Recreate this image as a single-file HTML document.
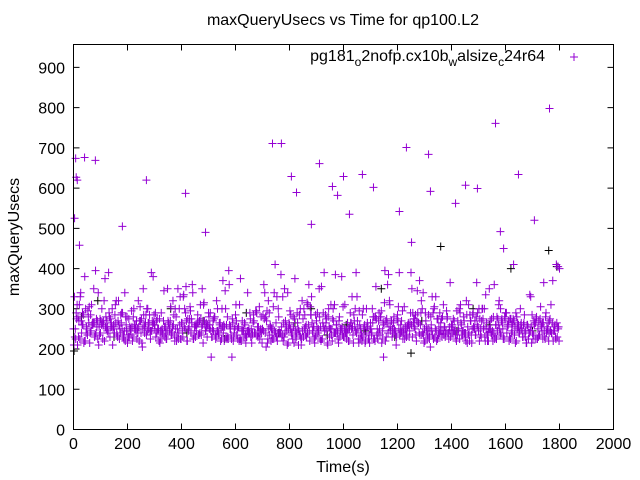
<!DOCTYPE html>
<html><head><meta charset="utf-8"><style>
body{margin:0;background:#fff;}
svg{display:block;font-family:"Liberation Sans",sans-serif;}
</style></head><body>
<svg id="chart" width="640" height="480" xmlns="http://www.w3.org/2000/svg">
<rect width="640" height="480" fill="#fff"/>
<text x="343" y="25" font-size="16" text-anchor="middle">maxQueryUsecs vs Time for qp100.L2</text>
<text x="343" y="472" font-size="16" text-anchor="middle">Time(s)</text>
<text transform="translate(19,237) rotate(-90)" font-size="16" text-anchor="middle">maxQueryUsecs</text>
<g id="axes"></g>
<g id="marks"></g>
<g>
<text x="545" y="61" font-size="16" text-anchor="end">pg181<tspan font-size="12" dy="5">o</tspan><tspan dy="-5">2nofp.cx10b</tspan><tspan font-size="12" dy="5">w</tspan><tspan dy="-5">alsize</tspan><tspan font-size="12" dy="5">c</tspan><tspan dy="-5">24r64</tspan></text>
<path d="M570,57h8M574,53v8" stroke="#9400d3" stroke-width="1"/>
</g>
<rect x="73.5" y="44.5" width="540" height="385" fill="none" stroke="#000"/>
</svg>
<script>
const xTicks=[0,200,400,600,800,1000,1200,1400,1600,1800,2000];
const yTicks=[0,100,200,300,400,500,600,700,800,900];
const endTime=1800;
const baseValues=[
250,230,290,210,270,330,240,260,220,300,250,280,215,245,265,350,235,275,225,255,
240,300,260,220,280,245,390,230,265,210,255,310,240,270,225,285,250,235,340,260,
215,275,245,295,230,260,250,225,320,270,240,205,285,255,235,300,265,225,245,380,
260,230,275,250,215,290,240,345,255,225,270,245,305,235,260,220,280,250,240,330,
265,230,255,290,220,250,275,240,360,225,260,245,285,235,310,255,215,270,245,230,
290,260,180,250,275,235,320,245,265,220,300,240,255,230,280,395,250,225,265,240,
285,235,255,310,220,270,245,260,230,340,250,275,215,265,240,295,235,255,225,280,
250,360,240,270,225,290,255,235,305,245,265,220,280,240,255,330,230,270,245,215,
260,285,240,255,375,230,265,245,300,225,275,250,235,315,260,220,285,245,255,230,
270,240,350,255,225,290,245,265,215,300,250,235,275,240,385,260,225,280,245,255,
230,310,240,265,220,290,250,235,270,245,330,225,260,240,285,250,215,300,255,235,
265,240,280,225,355,250,270,235,295,245,260,220,275,240,320,255,230,265,245,210,
285,250,240,270,225,305,255,235,265,245,390,230,275,250,220,290,240,260,235,340,
250,270,225,285,245,260,235,300,250,220,275,240,265,230,310,255,245,280,225,365,
260,240,270,235,295,250,225,265,245,280,230,320,255,240,270,215,290,250,235,260,
245,275,230,300,255,220,265,240,350,250,235,280,225,260,245,310,235,270,250,225,
290,240,260,230,275,245,410,255,220,265,240,300,250,230,285,245,260,225,335,255,
240,270,225,280,250,235,305,245,265,230,290,250,220,275,240,370,255,230,265,250];
const outlierTimes=[4,8,10,14,22,41,81,181,270,415,489,737,770,807,826,881,911,959,978,1000,1022,1070,1111,1207,1233,1252,1315,1322,1415,1452,1496,1563,1581,1593,1648,1707,1763,1800,1795];
const outlierValues=[525,674,627,620,458,676,669,505,620,587,490,711,711,629,589,510,661,604,582,629,535,634,602,542,701,465,684,592,562,607,599,761,492,450,634,520,798,400,405];
const blackTimes=[2,30,90,150,210,300,360,420,480,560,640,700,760,820,880,940,1010,1080,1140,1190,1250,1290,1360,1420,1480,1540,1620,1700,1760,1790];
const blackValues=[195,280,320,230,250,260,300,240,270,225,290,250,240,265,300,235,260,245,350,230,190,270,455,245,300,260,400,245,445,405];
const X=v=>73.5+v*540/2000, Y=v=>429.5-v*385/957;
const axes=document.getElementById('axes'), marks=document.getElementById('marks');
const NS='http://www.w3.org/2000/svg';
function mk(t,a,p){const e=document.createElementNS(NS,t);for(const k in a)e.setAttribute(k,a[k]);p.appendChild(e);return e;}
xTicks.forEach(t=>{const x=X(t);
 const l=mk('path',{d:`M${x},429.5v-6M${x},44.5v6`,stroke:'#000'},axes);
 
 
 const tx=mk('text',{x:x,y:449,'font-size':16,'text-anchor':'middle'},axes);tx.textContent=t;
 
 });
yTicks.forEach(t=>{const y=Y(t);
 const l=mk('path',{d:`M73.5,${y}h6M613.5,${y}h-6`,stroke:'#000'},axes);
 
 
 const tx=mk('text',{x:65,y:y+6,'font-size':16,'text-anchor':'end'},axes);tx.textContent=t;
 
 });
function plus(t,v,c){const x=X(t),y=Y(v);
 const p=mk('path',{d:`M${x-4},${y}h8M${x},${y-4}v8`,stroke:c,'stroke-width':1},marks);
 
 }
blackTimes.forEach((t,i)=>plus(t,blackValues[i],'#000'));
const n=baseValues.length, step=endTime/n;
baseValues.forEach((v,i)=>{
 plus(i*step,v,'#9400d3');
 plus(i*step+step/3,baseValues[(i*7+3)%n],'#9400d3');
 plus(i*step+2*step/3,baseValues[(i*13+5)%n],'#9400d3');});
outlierTimes.forEach((t,i)=>plus(t,outlierValues[i],'#9400d3'));
</script>
</body></html>
